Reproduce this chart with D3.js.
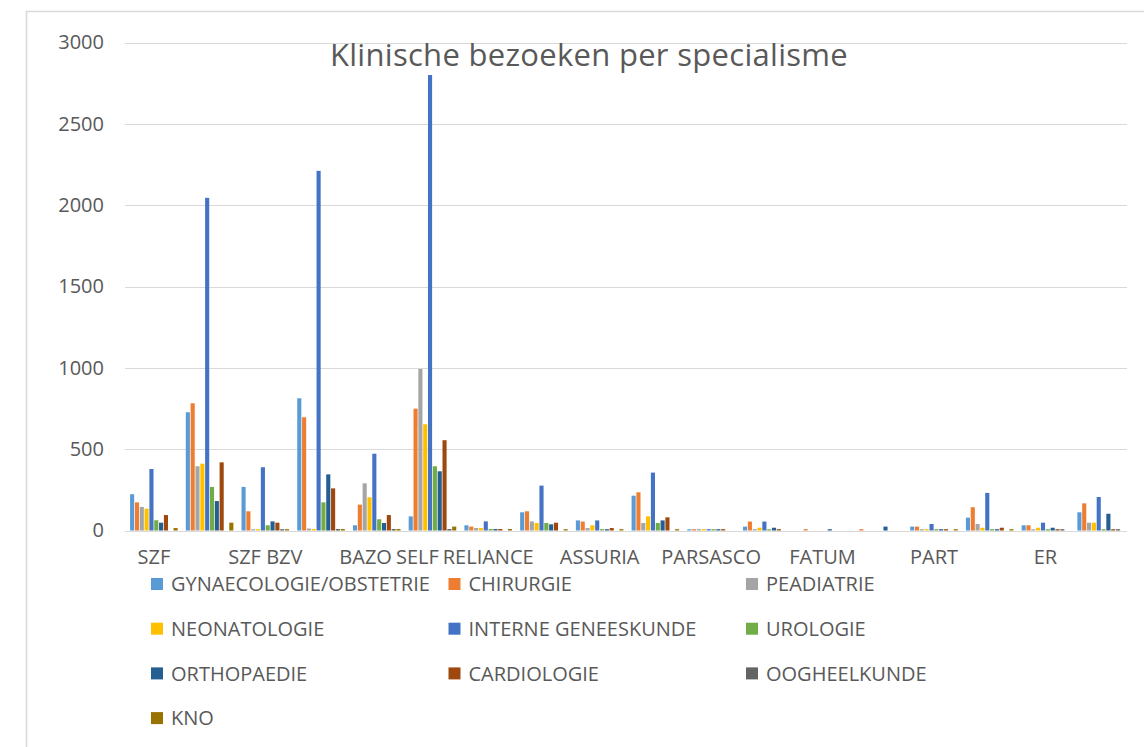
<!DOCTYPE html>
<html>
<head>
<meta charset="utf-8">
<script src="https://cdnjs.cloudflare.com/ajax/libs/d3/7.8.5/d3.min.js"></script>
<style>
  html, body { margin: 0; padding: 0; background: #fff; }
  svg { display: block; }
  text { font-family: "Open Sans", "Noto Sans", sans-serif; fill: #595959; }
</style>
</head>
<body>
<div id="chart"></div>
<script>
var categories = ["SZF", "", "SZF BZV", "", "BAZO", "SELF", "RELIANCE", "", "ASSURIA", "",
  "PARSASCO", "", "FATUM", "", "PART", "", "ER", ""];

var seriesNames = ["GYNAECOLOGIE/OBSTETRIE", "CHIRURGIE", "PEADIATRIE", "NEONATOLOGIE",
  "INTERNE GENEESKUNDE", "UROLOGIE", "ORTHOPAEDIE", "CARDIOLOGIE", "OOGHEELKUNDE", "KNO"];

var seriesColors = ["#5b9bd5", "#ed7d31", "#a5a5a5", "#ffc000", "#4472c4",
  "#70ad47", "#255e91", "#9e480e", "#636363", "#997300"];

var gynaecologie = [223, 727, 268, 813, 32, 87, 32, 112, 62, 214, 8, 24, 0, 0, 24, 79, 32, 112];
var chirurgie    = [173, 782, 118, 696, 159, 749, 24, 118, 55, 235, 8, 55, 8, 8, 24, 143, 32, 167];
var peadiatrie   = [145, 395, 8, 12, 290, 993, 15, 56, 15, 46, 8, 8, 0, 0, 8, 40, 8, 48];
var neonatologie = [134, 411, 8, 9, 204, 653, 15, 46, 32, 87, 8, 17, 0, 0, 8, 17, 17, 48];
var interne      = [378, 2045, 389, 2211, 472, 2800, 56, 276, 62, 356, 8, 55, 0, 0, 40, 231, 48, 206];
var urologie     = [63, 268, 32, 173, 69, 395, 9, 46, 8, 46, 8, 8, 0, 0, 8, 8, 8, 8];
var orthopaedie  = [48, 181, 56, 345, 46, 364, 9, 38, 8, 62, 8, 17, 8, 24, 8, 8, 17, 103];
var cardiologie  = [95, 419, 48, 259, 95, 555, 9, 48, 15, 81, 8, 8, 0, 0, 8, 17, 8, 8];
var oogheelkunde = [0, 0, 8, 9, 9, 9, 0, 0, 0, 0, 0, 0, 0, 0, 0, 0, 8, 8];
var kno          = [15, 48, 8, 9, 9, 24, 9, 8, 8, 8, 0, 0, 0, 0, 8, 8, 0, 0];

var yTicks = [0, 500, 1000, 1500, 2000, 2500, 3000];

var seriesValues = [gynaecologie, chirurgie, peadiatrie, neonatologie, interne,
  urologie, orthopaedie, cardiologie, oogheelkunde, kno];

var width = 1144, height = 747;

var svg = d3.select("#chart").append("svg")
    .attr("width", width)
    .attr("height", height);

// chart frame
svg.append("rect")
    .attr("x", 26.5).attr("y", 11.5)
    .attr("width", 1130).attr("height", 750)
    .attr("fill", "none")
    .attr("stroke", "#d9d9d9")
    .attr("stroke-width", 1.5);

var catIndex = d3.range(categories.length);

var x0 = d3.scaleBand()
    .domain(catIndex)
    .range([126, 1129])
    .paddingInner(0.12)
    .paddingOuter(0.06);

var x1 = d3.scaleBand()
    .domain(d3.range(seriesNames.length))
    .range([0, x0.bandwidth()])
    .padding(0.15);

var y = d3.scaleLinear()
    .domain([0, 3000])
    .range([530.5, 42.5]);

// gridlines
svg.append("g")
  .selectAll("line")
  .data(yTicks)
  .enter().append("line")
    .attr("x1", 125).attr("x2", 1127)
    .attr("y1", function(d) { return Math.round(y(d)) + 0.5; })
    .attr("y2", function(d) { return Math.round(y(d)) + 0.5; })
    .attr("stroke", "#d9d9d9")
    .attr("stroke-width", 1);

// y axis labels
var yAxis = d3.axisLeft(y)
    .tickValues(yTicks)
    .tickFormat(d3.format("d"))
    .tickSize(0)
    .tickPadding(0);
var yg = svg.append("g")
    .attr("transform", "translate(104,0)")
    .call(yAxis);
yg.select(".domain").remove();
yg.selectAll("text")
    .style("font-size", "20px")
    .style("font-family", "\"Open Sans\", sans-serif")
    .attr("fill", "#595959");

// bars
var groups = svg.append("g")
  .selectAll("g")
  .data(catIndex)
  .enter().append("g")
    .attr("transform", function(i) { return "translate(" + x0(i) + ",0)"; });

groups.selectAll("rect")
  .data(function(i) {
    return seriesValues.map(function(vals, s) { return { s: s, v: vals[i] }; });
  })
  .enter().append("rect")
    .attr("x", function(d) { return x1(d.s); })
    .attr("width", x1.bandwidth())
    .attr("y", function(d) { return y(d.v); })
    .attr("height", function(d) { return y(0) - y(d.v); })
    .attr("fill", function(d) { return seriesColors[d.s]; });

// x axis labels
var xAxis = d3.axisBottom(x0)
    .tickFormat(function(i) { return categories[i]; })
    .tickSize(0)
    .tickPadding(0);
var xg = svg.append("g")
    .attr("transform", "translate(0,550)")
    .call(xAxis);
xg.select(".domain").remove();
xg.selectAll("text")
    .attr("dy", "0.71em")
    .style("font-size", "20px")
    .style("font-family", "\"Open Sans\", sans-serif")
    .attr("fill", "#595959");

// push crowded labels to the left, the way excel does
var labelNodes = xg.selectAll(".tick text").nodes().filter(function(n) {
  return n.textContent.length > 0;
});
var shifts = labelNodes.map(function() { return 0; });
for (var k = labelNodes.length - 2; k >= 0; k--) {
  var a = labelNodes[k].getBoundingClientRect();
  var b = labelNodes[k + 1].getBoundingClientRect();
  var overlap = (a.right + shifts[k]) - (b.left + shifts[k + 1]) + 4;
  if (overlap > 0) shifts[k] -= overlap;
}
labelNodes.forEach(function(n, k) {
  d3.select(n).attr("x", shifts[k]);
});

// title
svg.append("text")
    .attr("x", 589)
    .attr("y", 66)
    .attr("text-anchor", "middle")
    .style("font-size", "31px")
    .style("letter-spacing", "0.3px")
    .text("Klinische bezoeken per specialisme");

// legend
var legend = svg.append("g")
  .selectAll("g")
  .data(seriesNames)
  .enter().append("g")
    .attr("transform", function(d, i) {
      var col = i % 3, row = Math.floor(i / 3);
      return "translate(" + (151 + col * 297.5) + "," + (584 + row * 44.7) + ")";
    });

legend.append("rect")
    .attr("x", 0).attr("y", -6)
    .attr("width", 12).attr("height", 12)
    .attr("fill", function(d, i) { return seriesColors[i]; });

legend.append("text")
    .attr("x", 20)
    .attr("dy", "0.36em")
    .style("font-size", "20px")
    .text(function(d) { return d; });
</script>
</body>
</html>
